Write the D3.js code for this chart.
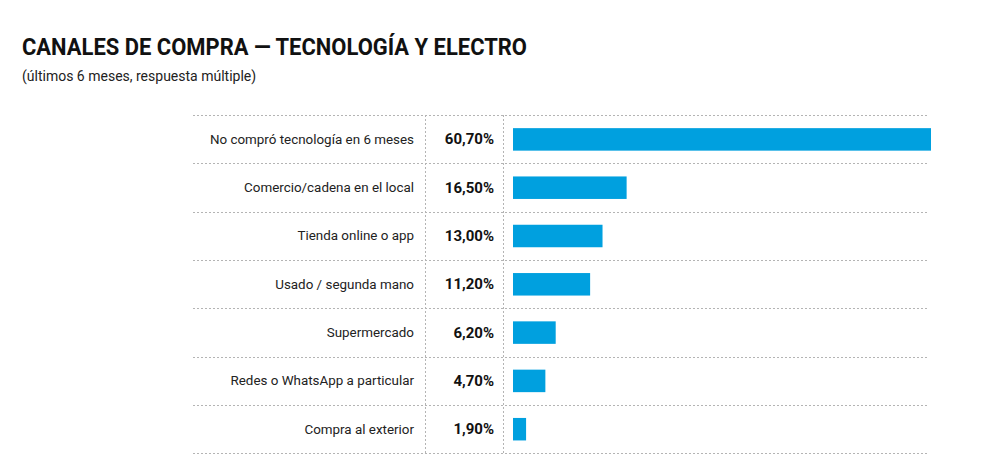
<!DOCTYPE html>
<html>
<head>
<meta charset="utf-8">
<script src="https://cdn.jsdelivr.net/npm/d3@7"></script>
<style>
  body { margin: 0; background: #fff; }
  svg { display: block; font-family: Roboto, "Noto Sans", sans-serif; }
</style>
</head>
<body>
<svg width="1000" height="474"></svg>
<script>
var categories = [
  "No compró tecnología en 6 meses",
  "Comercio/cadena en el local",
  "Tienda online o app",
  "Usado / segunda mano",
  "Supermercado",
  "Redes o WhatsApp a particular",
  "Compra al exterior"
];
var values = [60.7, 16.5, 13.0, 11.2, 6.2, 4.7, 1.9];
var valueLabels = ["60,70%", "16,50%", "13,00%", "11,20%", "6,20%", "4,70%", "1,90%"];

var svg = d3.select("svg");
var gridLeft = 193, gridRight = 929, gridTop = 115, rowH = 48.3;
var col1 = 425, col2 = 503, barStart = 513, barEnd = 931;

// title
svg.append("text")
  .attr("x", 22).attr("y", 55)
  .attr("font-size", 23).attr("font-weight", 700)
  .attr("fill", "#111")
  .attr("textLength", 505).attr("lengthAdjust", "spacingAndGlyphs")
  .text("CANALES DE COMPRA — TECNOLOGÍA Y ELECTRO");

svg.append("text")
  .attr("x", 22).attr("y", 81)
  .attr("font-size", 14)
  .attr("fill", "#222")
  .text("(últimos 6 meses, respuesta múltiple)");

var y = d3.scaleBand()
  .domain(categories)
  .range([gridTop, gridTop + rowH * categories.length]);

var x = d3.scaleLinear()
  .domain([0, d3.max(values)])
  .range([barStart, barEnd]);

var grid = svg.append("g")
  .attr("stroke", "#b4b4b4")
  .attr("stroke-width", 1)
  .attr("stroke-dasharray", "2,2");

var lines = [gridTop].concat(categories.map(function(d) { return y(d) + y.bandwidth(); }));
grid.selectAll("line.h").data(lines).enter().append("line")
  .attr("class", "h")
  .attr("x1", gridLeft).attr("x2", gridRight)
  .attr("y1", function(d) { return Math.round(d) + 0.5; })
  .attr("y2", function(d) { return Math.round(d) + 0.5; });

grid.selectAll("line.v").data([col1, col2]).enter().append("line")
  .attr("class", "v")
  .attr("x1", function(d) { return d + 0.5; })
  .attr("x2", function(d) { return d + 0.5; })
  .attr("y1", gridTop).attr("y2", Math.round(lines[lines.length - 1]));

var rows = svg.selectAll("g.row").data(categories).enter().append("g")
  .attr("class", "row")
  .attr("transform", function(d) { return "translate(0," + (y(d) + y.bandwidth() / 2) + ")"; });

rows.append("text")
  .attr("x", 414).attr("y", 0)
  .attr("dy", "0.35em")
  .attr("text-anchor", "end")
  .attr("font-size", 13.4)
  .attr("fill", "#222")
  .text(function(d) { return d; });

rows.append("text")
  .attr("x", 494).attr("y", 0)
  .attr("dy", "0.35em")
  .attr("text-anchor", "end")
  .attr("font-size", 15)
  .attr("font-weight", 700)
  .attr("fill", "#111")
  .text(function(d, i) { return valueLabels[i]; });

rows.append("rect")
  .attr("x", barStart)
  .attr("y", -11)
  .attr("height", 22.5)
  .attr("width", function(d, i) { return x(values[i]) - barStart; })
  .attr("fill", "#00a0df");
</script>
</body>
</html>
